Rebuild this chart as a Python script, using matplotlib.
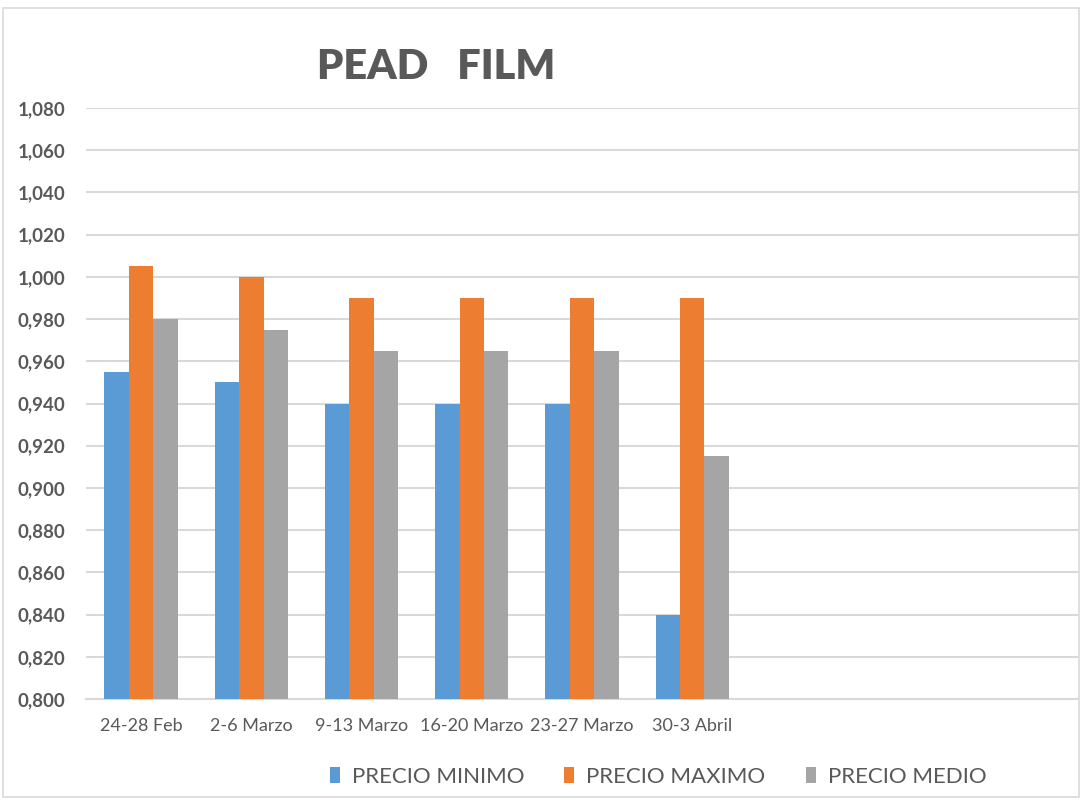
import matplotlib
matplotlib.use("Agg")
import matplotlib.pyplot as plt
from matplotlib.patches import Rectangle, Patch
import numpy as np

categories = ["24-28 Feb", "2-6 Marzo", "9-13 Marzo", "16-20 Marzo", "23-27 Marzo", "30-3 Abril"]
precio_minimo = [0.955, 0.950, 0.940, 0.940, 0.940, 0.840]
precio_maximo = [1.005, 1.000, 0.990, 0.990, 0.990, 0.990]
precio_medio = [0.980, 0.975, 0.965, 0.965, 0.965, 0.915]
series_names = ["PRECIO MINIMO", "PRECIO MAXIMO", "PRECIO MEDIO"]
yticks = [0.800, 0.820, 0.840, 0.860, 0.880, 0.900, 0.920, 0.940, 0.960, 0.980,
          1.000, 1.020, 1.040, 1.060, 1.080]
title = "PEAD   FILM"

colors = ["#5B9BD5", "#ED7D31", "#A5A5A5"]
txt = "#595959"
n_slots = 9

plt.rcParams['font.family'] = ['Lato', 'DejaVu Sans']
fig = plt.figure(figsize=(10.82, 8.0), dpi=100)
fig.patches.append(Rectangle((3/1082, 3/800), 1 - 6/1082, 1 - 11/800, transform=fig.transFigure,
                             fill=False, edgecolor="#D9D9D9", linewidth=1.2))

ax = fig.add_axes([86/1082, 1 - 699/800, (1078 - 86)/1082, (699 - 108)/800])
x = np.arange(len(categories))
w = 24.5 / 110.5
for i, (vals, c) in enumerate(zip([precio_minimo, precio_maximo, precio_medio], colors)):
    ax.bar(x + (i - 1) * w, vals, width=w, color=c, label=series_names[i], zorder=3)

ax.set_xlim(-0.5, n_slots - 0.5)
ax.set_ylim(0.800, 1.080)
ax.set_yticks(yticks)
ax.set_yticklabels([f"{v:.3f}".replace(".", ",") for v in yticks],
                   fontsize=13.5, fontweight="bold", color=txt)
ax.set_xticks(x)
ax.set_xticklabels(categories, fontsize=13, color=txt)
ax.tick_params(axis="both", length=0)
ax.tick_params(axis="y", pad=15)
ax.tick_params(axis="x", pad=14)
ax.grid(axis="y", color="#D9D9D9", linewidth=1.5, zorder=0)
for s in ["top", "right", "left"]:
    ax.spines[s].set_visible(False)
ax.spines["bottom"].set_color("#D9D9D9")
ax.spines["bottom"].set_linewidth(1.5)

fig.text(436/1082, 1 - 67/800, title, ha="center", va="center", fontsize=30,
         fontweight="heavy", color=txt)

handles = [Patch(facecolor=c) for c in colors]
leg = fig.legend(handles, series_names, ncol=3, loc="center", bbox_to_anchor=(658/1082, 1 - 777/800),
                 frameon=False, fontsize=16, handlelength=0.45, handleheight=0.72,
                 handletextpad=0.55, columnspacing=1.8)
for t in leg.get_texts():
    t.set_color(txt)

fig.savefig("out.png", dpi=100)
